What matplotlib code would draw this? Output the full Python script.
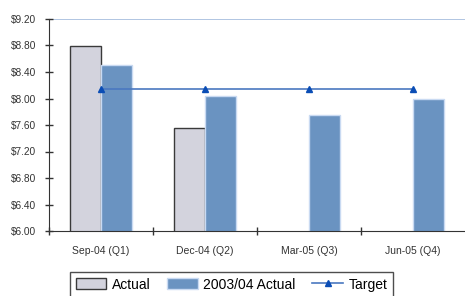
import numpy as np
import matplotlib.pyplot as plt

plt.rcParams['font.family'] = ['Liberation Sans', 'DejaVu Sans']

quarters = ['Sep-04 (Q1)', 'Dec-04 (Q2)', 'Mar-05 (Q3)', 'Jun-05 (Q4)']
actual = [8.79, 7.56, np.nan, np.nan]
prior_actual = [8.50, 8.04, 7.75, 7.99]
target = [8.15, 8.15, 8.15, 8.15]
yticks = [6.00, 6.40, 6.80, 7.20, 7.60, 8.00, 8.40, 8.80, 9.20]

fig = plt.figure(figsize=(4.65, 2.96), dpi=100)
ax = fig.add_axes([49 / 465, 65 / 296, 1 - 49 / 465, 212 / 296])

x = np.arange(len(quarters))
w = 0.295
act = np.array(actual)
ok = ~np.isnan(act)
b1 = ax.bar(x[ok] - w / 2, act[ok], w, color='#d3d3dd', edgecolor='#3a3a3a',
            linewidth=1.0, label='Actual', zorder=2)
b2 = ax.bar(x + w / 2, prior_actual, w, color='#6a93c1', edgecolor='#c9daf2',
            linewidth=1.0, label='2003/04 Actual', zorder=2)
ln, = ax.plot(x, target, color='#4a78c0', linewidth=1.2, marker='^', markersize=5,
              markerfacecolor='#0a4db5', markeredgecolor='#0a4db5', label='Target',
              zorder=3)

ax.axhline(9.2, color='#a3bbdd', linewidth=1.2, zorder=1)

ax.set_xlim(-0.5, 3.5)
ax.set_ylim(6.0, 9.2)
ax.set_yticks(yticks)
ax.set_yticklabels(['$%.2f' % v for v in yticks])
ax.set_xticks([-0.5, 0.5, 1.5, 2.5])
ax.set_xticklabels([])
ax.set_xticks(x, minor=True)
ax.set_xticklabels(quarters, minor=True)

ax.tick_params(axis='y', direction='inout', length=6, width=1, colors='#333333',
               labelsize=7.3, pad=6)
ax.tick_params(axis='x', which='major', direction='inout', length=6, width=1,
               colors='#333333')
ax.tick_params(axis='x', which='minor', length=0, labelsize=7.5, pad=11,
               labelcolor='#333333')

for s in ['top', 'right']:
    ax.spines[s].set_visible(False)
ax.spines['left'].set_color('#333333')
ax.spines['bottom'].set_color('#333333')

leg = fig.legend([b1, b2, ln], ['Actual', '2003/04 Actual', 'Target'],
                 loc='upper left', bbox_to_anchor=(70 / 465, 1 - 272 / 296),
                 ncol=3, fontsize=10, frameon=True, fancybox=False,
                 edgecolor='#222222', handlelength=2.2, handleheight=0.8,
                 columnspacing=1.2, handletextpad=0.4, borderpad=0.4,
                 borderaxespad=0)
leg.get_frame().set_linewidth(1.0)

fig.savefig('out.png', dpi=100)
